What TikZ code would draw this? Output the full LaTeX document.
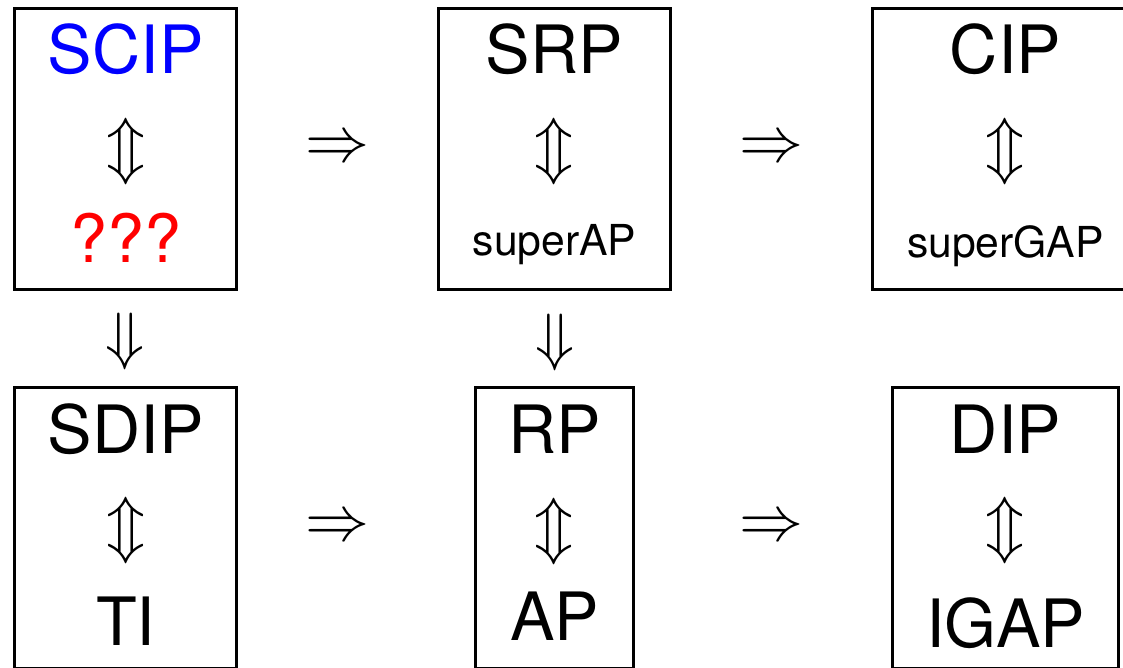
\RequirePackage{fix-cm}
\documentclass[tikz,border=0pt]{standalone}
\usepackage{fontspec}
\setmainfont{TeX Gyre Heros}
\usepackage{tikz}
\usetikzlibrary{positioning}
\usepackage{xcolor}
\definecolor{openblue}{HTML}{0000FF}
\definecolor{openred}{HTML}{FF0000}

\begin{document}
\begin{tikzpicture}[
  x=0.75pt, y=-0.75pt,
  box/.style={draw=black, line width=2pt, inner sep=0pt, minimum height=210.75pt},
  big/.style={anchor=base, inner sep=0pt, font=\fontsize{50}{56}\selectfont},
  small/.style={anchor=base, inner sep=0pt, font=\fontsize{32}{38}\selectfont},
  sym/.style={inner sep=0pt, font=\fontsize{48}{52}\selectfont},
]
\useasboundingbox (0,0) rectangle (1123,667);

% top row
\node[box, minimum width=166.5pt] (scipbox) at (125.7,149.1) {};
\node[box, minimum width=174pt]   (srpbox)  at (554.5,149.1) {};
\node[box, minimum width=199.5pt] (cipbox)  at (1005.5,149.1) {};

\node[big, text=openblue] (scip) at (125.7,74) {SCIP};
\node[big, text=openred]  (open) at (125.7,262) {???};
\node[big] (srp) at (554.5,74) {SRP};
\node[small] (sap) at (554.5,255) {superAP};
\node[big] (cip) at (1005.5,74) {CIP};
\node[small] (sgap) at (1005.5,257) {superGAP};

% bottom row
\node[box, minimum width=166.5pt] (sdipbox) at (125.7,528) {};
\node[box, minimum width=118.5pt] (rpbox)   at (554.5,528) {};
\node[box, minimum width=169.5pt] (dipbox)  at (1005.5,528) {};

\node[big] (sdip) at (125.7,453) {SDIP};
\node[big] (ti)   at (125.7,645) {TI};
\node[big] (rp)   at (554.5,453) {RP};
\node[big] (ap)   at (554.5,640) {AP};
\node[big] (dip)  at (1005.5,453) {DIP};
\node[big] (igap) at (1005.5,647) {IGAP};

% equivalences inside the boxes
\foreach \x/\y/\n in {125.7/151/e1, 554.5/151/e2, 1005.5/151/e3,
                      125.7/530/e4, 554.5/531/e5, 1005.5/530/e6}
  { \node[sym] (\n) at (\x,\y) {$\Updownarrow$}; }

% implications between the boxes
\foreach \x/\y/\n in {337.5/150/i1, 771/150/i2, 337.5/529/i3, 771/529/i4}
  { \node[sym] (\n) at (\x,\y) {$\Rightarrow$}; }
\node[sym] (d1) at (125,341) {$\Downarrow$};
\node[sym] (d2) at (555,342) {$\Downarrow$};
\end{tikzpicture}
\end{document}
